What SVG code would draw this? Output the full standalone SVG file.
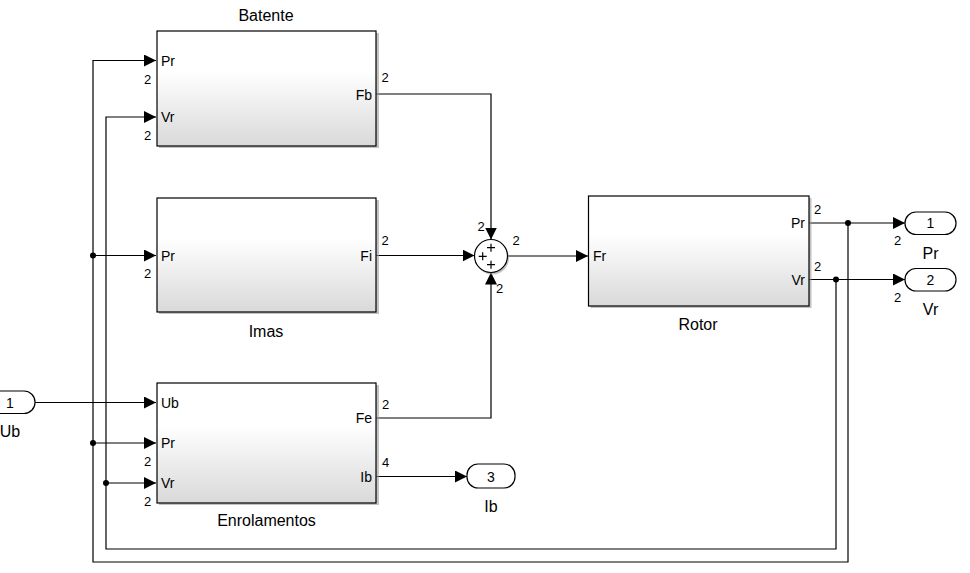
<svg xmlns="http://www.w3.org/2000/svg" width="970" height="573" viewBox="0 0 970 573">
<defs>
<linearGradient id="bg" x1="0" y1="0" x2="0" y2="1">
<stop offset="0" stop-color="#ffffff"/>
<stop offset="0.35" stop-color="#ffffff"/>
<stop offset="1" stop-color="#d9d9d9"/>
</linearGradient>
<marker id="ar" markerUnits="userSpaceOnUse" markerWidth="12" markerHeight="12" refX="12" refY="6" orient="auto">
<path d="M0,0 L12,6 L0,12 z" fill="#000"/>
</marker>
</defs>
<style>
text{font-family:"Liberation Sans",Arial,sans-serif;fill:#000}
.p{font-size:14px}
.d{font-size:13px;text-anchor:middle}
.n{font-size:16px;text-anchor:middle}
.r{text-anchor:end}
.m{text-anchor:middle}
.blk{fill:url(#bg);stroke:#000;stroke-width:1.2}
.sh{fill:#9a9a9a;opacity:0.6}
.w{fill:none;stroke:#000;stroke-width:1.2}
.port{fill:#fff;stroke:#000;stroke-width:1.2}
.dot{fill:#000}
</style>
<rect width="970" height="573" fill="#fff"/>

<g id="connectors">
<path class="w" d="M376,94 H491 V239.5" marker-end="url(#ar)"/>
<path class="w" d="M376,255.5 H474.5" marker-end="url(#ar)"/>
<path class="w" d="M376,418 H491 V272.5" marker-end="url(#ar)"/>
<path class="w" d="M507.5,256 H588" marker-end="url(#ar)"/>
<path class="w" d="M809,223 H905" marker-end="url(#ar)"/>
<path class="w" d="M809,279.5 H905" marker-end="url(#ar)"/>
<path class="w" d="M848,223 V562 H93 V60.5 H156" marker-end="url(#ar)"/>
<path class="w" d="M93,255.5 H156" marker-end="url(#ar)"/>
<path class="w" d="M93,443 H156" marker-end="url(#ar)"/>
<path class="w" d="M836,279.5 V549 H106 V117 H156" marker-end="url(#ar)"/>
<path class="w" d="M106,483 H156" marker-end="url(#ar)"/>
<path class="w" d="M35,402.5 H156" marker-end="url(#ar)"/>
<path class="w" d="M376,476.5 H467" marker-end="url(#ar)"/>
<circle class="dot" cx="848" cy="223" r="3"/>
<circle class="dot" cx="836" cy="279.5" r="3"/>
<circle class="dot" cx="93" cy="255.5" r="3"/>
<circle class="dot" cx="93" cy="443" r="3"/>
<circle class="dot" cx="106" cy="483" r="3"/>
</g>

<g id="batente">
<rect class="sh" x="159" y="33" width="220" height="115"/>
<rect class="blk" x="157" y="31" width="219" height="115"/>
<text class="n" x="266" y="21">Batente</text>
<text class="p" x="161" y="65.5">Pr</text>
<text class="d" x="147.5" y="84">2</text>
<text class="p" x="161" y="122">Vr</text>
<text class="d" x="147.5" y="140">2</text>
<text class="p r" x="372" y="99.5">Fb</text>
<text class="d" x="385" y="82">2</text>
</g>

<g id="imas">
<rect class="sh" x="159" y="200" width="220" height="114"/>
<rect class="blk" x="157" y="198" width="219" height="114"/>
<text class="n" x="266" y="337">Imas</text>
<text class="p" x="161" y="260.5">Pr</text>
<text class="d" x="147.5" y="278">2</text>
<text class="p r" x="372" y="260.5">Fi</text>
<text class="d" x="385" y="245">2</text>
</g>

<g id="enrolamentos">
<rect class="sh" x="159" y="385" width="220" height="120"/>
<rect class="blk" x="157" y="383" width="219" height="120"/>
<text class="n" x="266.5" y="526">Enrolamentos</text>
<text class="p" x="161" y="407.5">Ub</text>
<text class="p" x="161" y="448">Pr</text>
<text class="d" x="147.5" y="465.5">2</text>
<text class="p" x="161" y="488">Vr</text>
<text class="d" x="147.5" y="505.5">2</text>
<text class="p r" x="372" y="423">Fe</text>
<text class="d" x="385.5" y="409">2</text>
<text class="p r" x="372" y="481.5">Ib</text>
<text class="d" x="385.5" y="466.5">4</text>
</g>

<g id="sum">
<circle cx="492.5" cy="258" r="16.5" fill="#9a9a9a" opacity="0.6"/>
<circle cx="491" cy="256" r="16.5" fill="#fff" stroke="#000" stroke-width="1.2"/>
<path class="w" d="M487,247.7 H495 M491,243.7 V251.7 M478.7,256.3 H486.7 M482.7,252.3 V260.3 M487,264.7 H495 M491,260.7 V268.7" stroke-width="1.1"/>
<text class="d" x="481" y="230.5">2</text>
<text class="d" x="516" y="245">2</text>
<text class="d" x="499.5" y="293">2</text>
</g>

<g id="rotor">
<rect class="sh" x="590.5" y="198" width="221" height="110"/>
<rect class="blk" x="588.5" y="196" width="220.5" height="110"/>
<text class="n" x="698" y="330">Rotor</text>
<text class="p" x="593" y="260.5">Fr</text>
<text class="p r" x="805" y="228">Pr</text>
<text class="d" x="817.5" y="214">2</text>
<text class="p r" x="805" y="284.5">Vr</text>
<text class="d" x="817.5" y="270.5">2</text>
</g>

<g id="out_pr">
<rect class="port" x="905" y="212" width="51" height="22.5" rx="11"/>
<text class="p m" x="930.5" y="228">1</text>
<text class="d" x="897.5" y="245">2</text>
<text class="n" x="930.5" y="259">Pr</text>
</g>

<g id="out_vr">
<rect class="port" x="905" y="268.5" width="51" height="22.5" rx="11"/>
<text class="p m" x="930.5" y="284.5">2</text>
<text class="d" x="897.5" y="301.5">2</text>
<text class="n" x="930.5" y="315">Vr</text>
</g>

<g id="out_ib">
<rect class="port" x="467" y="464" width="48" height="24" rx="11"/>
<text class="p m" x="491" y="481.5">3</text>
<text class="n" x="491" y="512">Ib</text>
</g>

<g id="in_ub">
<rect class="port" x="-16" y="391" width="51" height="22.5" rx="11"/>
<text class="p m" x="10" y="407.5">1</text>
<text class="n" x="10" y="437">Ub</text>
</g>
</svg>
